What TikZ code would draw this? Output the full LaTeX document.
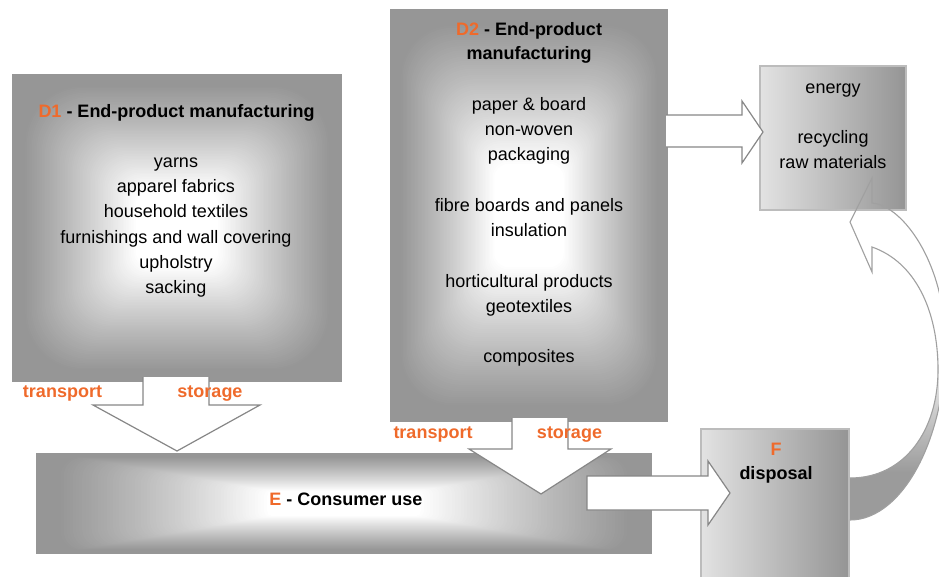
\documentclass[tikz,border=0pt]{standalone}
\usepackage{fontspec}
\setmainfont{Liberation Sans}
\usetikzlibrary{shadings}
\definecolor{boxgray}{RGB}{150,150,150}
\definecolor{accent}{RGB}{239,106,43}
\definecolor{arrowline}{RGB}{135,135,135}
\definecolor{frameline}{RGB}{188,188,188}
\definecolor{bandgray}{RGB}{155,155,155}
\definecolor{bandline}{RGB}{160,160,160}
\definecolor{lightend}{RGB}{244,244,244}
\definecolor{lightmid}{RGB}{234,234,234}
\definecolor{darkend}{RGB}{110,110,110}
\pgfdeclarehorizontalshading{leftright}{100bp}{color(0bp)=(lightend); color(20bp)=(lightmid); color(100bp)=(darkend)}
\pgfdeclareverticalshading{bandshade}{100bp}{color(0bp)=(bandgray); color(32bp)=(bandgray); color(50bp)=(white); color(100bp)=(white)}
% rectangular "from centre" glow: centre x, centre y, width, height
\newcommand{\glowfill}[4]{%
  \fill[boxgray] ({#1-#3/2},{#2-#4/2}) rectangle ({#1+#3/2},{#2+#4/2});
  \pgfmathsetmacro{\rmin}{min(#3,#4)}%
  \foreach \k in {0,...,70}{%
    \pgfmathsetmacro{\f}{0.95-\k/100}%
    \pgfmathsetmacro{\u}{min(1,max(0,(\f-0.25)/0.68))}%
    \pgfmathsetmacro{\p}{100*\u*(1.15-0.15*\u)}%
    \pgfmathsetmacro{\rr}{0.2*\f*\rmin}%
    \fill[boxgray!\p!white, rounded corners=\rr pt] ({#1-\f*#3/2},{#2-\f*#4/2}) rectangle ({#1+\f*#3/2},{#2+\f*#4/2});
  }%
}
\tikzset{
  boxframe/.style={rectangle, inner sep=0pt, draw=none},
  sidebox/.style={rectangle, inner sep=0pt, shade, shading=leftright, draw=frameline, line width=1.4pt},
  blockarrow/.style={fill=white, draw=arrowline, line width=1.2pt, line join=miter},
  band/.style={draw=bandline, line width=1.1pt, line join=miter},
  txt/.style={anchor=north, inner sep=0pt, align=center, font=\fontsize{18}{25.3}\selectfont},
  ttl/.style={txt, font=\bfseries\fontsize{18}{24}\selectfont},
  lbl/.style={txt, text=accent, font=\bfseries\fontsize{18}{24}\selectfont}
}
\begin{document}
\begin{tikzpicture}[x=1pt, y=-1pt]
\useasboundingbox (0,0) rectangle (939,576);
\clip (0,0) rectangle (939,576);
% main boxes
\glowfill{177}{228}{330}{308}
\node[boxframe, minimum width=330pt, minimum height=308pt] (D1) at (177,228) {};
\glowfill{529}{215.5}{278}{413}
\node[boxframe, minimum width=278pt, minimum height=413pt] (D2) at (529,215.5) {};
\glowfill{344}{503.5}{616}{101}
\node[boxframe, minimum width=616pt, minimum height=101pt] (E) at (344,503.5) {};
% curved return arrow (fill)
\path[shade, shading=bandshade] (850,478) .. controls (905,478) and (938,430) .. (938,370)
  .. controls (938,310) and (915,262) .. (872,247) -- (872,272) -- (850,222) -- (872,178)
  -- (872,203) .. controls (900,205) and (940,255) .. (945,330)
  .. controls (950,430) and (905,520) .. (850,520) -- cycle;
% side boxes
\node[sidebox, minimum width=146pt, minimum height=144pt] (EN) at (833,138) {};
\node[sidebox, minimum width=148pt, minimum height=170pt] (F) at (775,514) {};
% curved return arrow (outline)
\draw[band] (850,478) .. controls (905,478) and (938,430) .. (938,370)
  .. controls (938,310) and (915,262) .. (872,247) -- (872,272) -- (850,222) -- (872,178)
  -- (872,203) .. controls (900,205) and (940,255) .. (945,330)
  .. controls (950,430) and (905,520) .. (850,520);
% block arrows
\draw[blockarrow] (143,377) -- (143,405) -- (93,405) -- (177,451) -- (260,405) -- (209,405) -- (209,377);
\draw[blockarrow] (512,418) -- (512,449) -- (469,449) -- (541,494) -- (611,449) -- (568,449) -- (568,418);
\draw[blockarrow] (587,476) -- (708,476) -- (708,461) -- (730,493) -- (708,525) -- (708,510) -- (587,510) -- cycle;
\draw[blockarrow] (666,115) -- (742,115) -- (742,101) -- (763,132) -- (742,163) -- (742,147) -- (666,147);
% texts
\node[ttl] (D1title) at (176.5,103) {\rule{0pt}{14pt}\textcolor{accent}{D1} - End-product manufacturing};
\node[txt] (D1items) at (176,153) {\rule{0pt}{14pt}yarns\\apparel fabrics\\household textiles\\furnishings and wall covering\\upholstry\\sacking};
\node[ttl] (D2title) at (529,21) {\rule{0pt}{14pt}\textcolor{accent}{D2} - End-product\\manufacturing};
\node[txt, font=\fontsize{18}{25.27}\selectfont] (D2items) at (529,96) {\rule{0pt}{14pt}paper \& board\\non-woven\\packaging\\[25.27pt]fibre boards and panels\\insulation\\[25.27pt]horticultural products\\geotextiles\\[25.27pt]composites};
\node[txt, font=\fontsize{18}{25}\selectfont] (ENtext) at (833,79) {\rule{0pt}{14pt}energy\\[25pt]recycling\\raw materials};
\node[ttl] (Ftext) at (776,441) {\rule{0pt}{14pt}\textcolor{accent}{F}\\disposal};
\node[ttl] (Etext) at (346,491) {\rule{0pt}{14pt}\textcolor{accent}{E} - Consumer use};
\node[lbl] (t1) at (62.5,383) {\rule{0pt}{14pt}transport};
\node[lbl] (s1) at (210,383) {\rule{0pt}{14pt}storage};
\node[lbl] (t2) at (433,424) {\rule{0pt}{14pt}transport};
\node[lbl] (s2) at (569.5,424) {\rule{0pt}{14pt}storage};
\end{tikzpicture}
\end{document}
